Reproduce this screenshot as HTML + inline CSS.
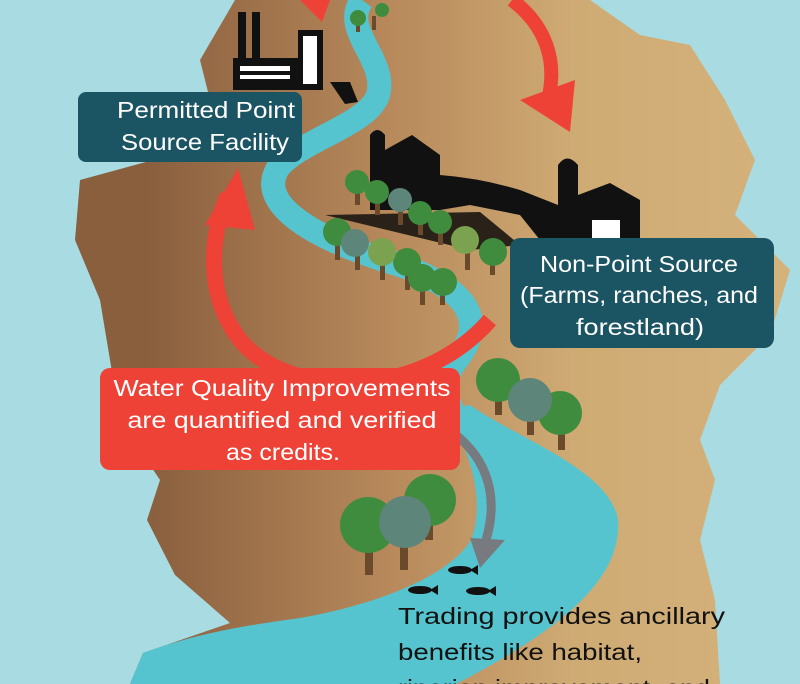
<!DOCTYPE html>
<html><head><meta charset="utf-8"><style>
body{margin:0;width:800px;height:684px;overflow:hidden;background:#a9dbe2;}
svg{display:block}
.t{font-family:"Liberation Sans",sans-serif;}
</style></head><body>
<svg width="800" height="684" viewBox="0 0 800 684">
<defs>
<linearGradient id="g" x1="0" x2="1" y1="0" y2="0">
<stop offset="0.1" stop-color="#8a5f3e"/><stop offset="0.45" stop-color="#b88a5c"/><stop offset="0.7" stop-color="#cfab74"/><stop offset="1" stop-color="#d4b27b"/>
</linearGradient>
</defs>
<rect width="800" height="684" fill="#a9dbe2"/>
<path d="M235,0 L590,0 L640,35 L690,45 L725,100 L755,160 L735,215 L790,270 L770,335 L720,385 L700,440 L715,480 L700,540 L715,600 L720,684 L130,684 L143,653 L230,623 L175,575 L147,520 L160,480 L120,420 L110,360 L100,300 L75,240 L80,180 L190,150 L210,100 L200,60 Z" fill="url(#g)"/>
<!-- river -->
<path d="M362,0 C340,30 388,60 378,95 C368,125 300,140 278,168 C258,200 300,235 400,265 C470,290 488,322 455,362 C440,385 445,400 458,420" fill="none" stroke="#56c4cf" stroke-width="24"/>
<path d="M445,410 L470,405 C520,440 610,470 618,520 C622,580 560,630 456,684 L130,684 L143,653 C200,632 250,625 300,618 C380,604 450,575 471,540 C486,500 470,450 445,410 Z" fill="#56c4cf"/>
<!-- factory -->
<g fill="#111">
<rect x="233" y="58" width="67" height="32"/><rect x="298" y="30" width="25" height="60"/>
<rect x="238" y="12" width="8" height="48"/><rect x="252" y="12" width="8" height="48"/>
<path d="M330,82 L350,82 L358,102 L345,104 Z"/>
</g>
<g fill="#fff"><rect x="240" y="66" width="50" height="5"/><rect x="240" y="75" width="50" height="4"/><rect x="303" y="36" width="14" height="48"/></g>
<!-- farm silhouette -->
<path d="M370,135 Q377,125 385,135 L385,150 L412,135 L440,155 L440,175 Q480,178 520,190 L558,205 L558,165 Q567,152 578,165 L578,195 L610,183 L640,200 L640,240 L540,240 L520,215 L470,205 L440,210 L370,210 Z" fill="#111"/>
<path d="M325,215 L470,250 L520,245 L480,212 Z" fill="#2a2218"/>
<rect x="592" y="220" width="28" height="18" fill="#fff"/>
<!-- trees -->
<g>
<g fill="#6b4a2c"><rect x="356" y="18" width="4" height="14"/><rect x="372" y="16" width="4" height="14"/><rect x="355" y="185" width="5" height="20"/><rect x="375" y="195" width="5" height="20"/><rect x="398" y="205" width="5" height="20"/><rect x="418" y="215" width="5" height="20"/><rect x="438" y="225" width="5" height="20"/><rect x="335" y="235" width="5" height="25"/><rect x="355" y="245" width="5" height="25"/><rect x="380" y="255" width="5" height="25"/><rect x="405" y="265" width="5" height="25"/><rect x="420" y="280" width="5" height="25"/><rect x="440" y="285" width="5" height="20"/><rect x="465" y="245" width="5" height="25"/><rect x="490" y="255" width="5" height="20"/><rect x="495" y="385" width="7" height="30"/><rect x="527" y="405" width="7" height="30"/><rect x="558" y="420" width="7" height="30"/><rect x="365" y="530" width="8" height="45"/><rect x="400" y="530" width="8" height="40"/><rect x="425" y="500" width="8" height="40"/></g>
<g fill="#3f8c3f"><circle cx="358" cy="18" r="8"/><circle cx="382" cy="10" r="7"/><circle cx="357" cy="182" r="12"/><circle cx="377" cy="192" r="12"/><circle cx="420" cy="213" r="12"/><circle cx="440" cy="222" r="12"/><circle cx="337" cy="232" r="14"/><circle cx="407" cy="262" r="14"/><circle cx="422" cy="278" r="14"/><circle cx="443" cy="282" r="14"/><circle cx="493" cy="252" r="14"/><circle cx="498" cy="380" r="22"/><circle cx="560" cy="413" r="22"/><circle cx="368" cy="525" r="28"/><circle cx="430" cy="500" r="26"/></g>
<g fill="#5e857a"><circle cx="400" cy="200" r="12"/><circle cx="355" cy="243" r="14"/><circle cx="530" cy="400" r="22"/><circle cx="405" cy="522" r="26"/></g>
<g fill="#7ba24f"><circle cx="382" cy="252" r="14"/><circle cx="465" cy="240" r="14"/></g>
</g>
<!-- red arrows -->
<path d="M512,0 C545,25 558,60 548,100" fill="none" stroke="#ee4236" stroke-width="14"/>
<path d="M520,100 L570,132 L575,80 Z" fill="#ee4236"/>
<path d="M300,0 L330,0 L322,22 Z" fill="#ee4236"/>
<path d="M490,320 C420,400 290,400 240,340 C205,295 210,235 228,195" fill="none" stroke="#ee4236" stroke-width="16"/>
<path d="M205,225 L238,168 L255,230 Z" fill="#ee4236"/>
<!-- grey arrow -->
<path d="M452,432 C490,460 498,500 486,540" fill="none" stroke="#777b80" stroke-width="9"/>
<path d="M470,538 L505,540 L480,568 Z" fill="#777b80"/>
<!-- fish -->
<g fill="#111"><ellipse cx="460" cy="570" rx="12" ry="4"/><ellipse cx="420" cy="590" rx="12" ry="4"/><ellipse cx="478" cy="591" rx="12" ry="4"/>
<path d="M470,570 L478,565 L478,575 Z"/><path d="M430,590 L438,585 L438,595 Z"/><path d="M488,591 L496,586 L496,596 Z"/></g>
<!-- boxes -->
<rect x="78" y="92" width="224" height="70" rx="8" fill="#1b5462"/>
<text class="t" x="206" y="118" text-anchor="middle" fill="#fff" font-size="23" textLength="178" lengthAdjust="spacingAndGlyphs">Permitted Point</text>
<text class="t" x="205" y="150" text-anchor="middle" fill="#fff" font-size="23" textLength="168" lengthAdjust="spacingAndGlyphs">Source Facility</text>
<rect x="510" y="238" width="264" height="110" rx="10" fill="#1b5462"/>
<text class="t" x="639" y="272" text-anchor="middle" fill="#fff" font-size="23" textLength="198" lengthAdjust="spacingAndGlyphs">Non-Point Source</text>
<text class="t" x="639" y="303" text-anchor="middle" fill="#fff" font-size="23" textLength="238" lengthAdjust="spacingAndGlyphs">(Farms, ranches, and</text>
<text class="t" x="640" y="335" text-anchor="middle" fill="#fff" font-size="23" textLength="128" lengthAdjust="spacingAndGlyphs">forestland)</text>
<rect x="100" y="368" width="360" height="102" rx="10" fill="#ee4236"/>
<text class="t" x="282" y="396" text-anchor="middle" fill="#fff" font-size="23" textLength="337" lengthAdjust="spacingAndGlyphs">Water Quality Improvements</text>
<text class="t" x="282" y="428" text-anchor="middle" fill="#fff" font-size="23" textLength="309" lengthAdjust="spacingAndGlyphs">are quantified and verified</text>
<text class="t" x="283" y="460" text-anchor="middle" fill="#fff" font-size="23" textLength="114" lengthAdjust="spacingAndGlyphs">as credits.</text>
<text class="t" x="398" y="624" fill="#111" font-size="23" textLength="327" lengthAdjust="spacingAndGlyphs">Trading provides ancillary</text>
<text class="t" x="398" y="660" fill="#111" font-size="23" textLength="244" lengthAdjust="spacingAndGlyphs">benefits like habitat,</text>
<text class="t" x="398" y="696" fill="#111" font-size="23" textLength="312" lengthAdjust="spacingAndGlyphs">riparian improvement, and</text>
</svg>
</body></html>
